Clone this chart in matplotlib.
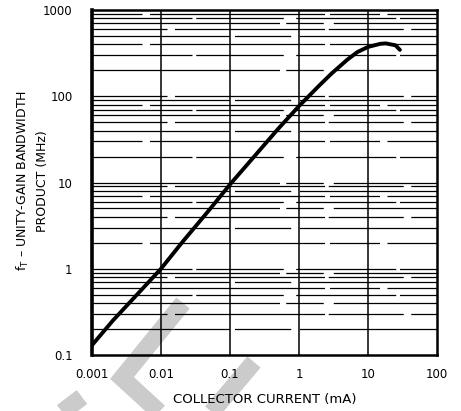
import matplotlib
matplotlib.use('Agg')
import matplotlib.pyplot as plt
from matplotlib.lines import Line2D
import numpy as np

# collector current (mA) vs unity-gain bandwidth product (MHz)
ic_ma = [0.001, 0.002, 0.005, 0.01, 0.02, 0.05, 0.1, 0.2, 0.5, 1, 2, 3, 5, 7,
         10, 15, 18, 25, 29]
ft_mhz = [0.13, 0.25, 0.55, 1.0, 2.0, 4.8, 9.5, 18, 42, 77, 135, 185, 265, 325,
          373, 405, 410, 390, 345]

x_ticks = [0.001, 0.01, 0.1, 1, 10, 100]
x_tick_labels = ['0.001', '0.01', '0.1', '1', '10', '100']
y_ticks = [0.1, 1, 10, 100, 1000]
y_tick_labels = ['0.1', '1', '10', '100', '1000']

W, H = 461, 411


def main():
  plt.rcParams['font.family'] = ['DejaVu Sans']
  fig = plt.figure(figsize=(W / 100, H / 100), dpi=100)
  ax = fig.add_axes([92 / W, 1 - 355 / H, 345 / W, 345 / H])
  ax.set_facecolor('none')
  ax.set_xscale('log')
  ax.set_yscale('log')
  ax.set_xlim(x_ticks[0], x_ticks[-1])
  ax.set_ylim(y_ticks[0], y_ticks[-1])

  # grey diagonal stamp behind the chart
  stamp = [
      [(183, 303), (122, 378), (170, 422)],
      [(45, 425), (82, 397)],
      [(254, 362), (205, 420)],
  ]
  for pts in stamp:
    xs = [p[0] / W for p in pts]
    ys = [1 - p[1] / H for p in pts]
    fig.add_artist(Line2D(xs, ys, transform=fig.transFigure, color='#cbcbcb',
                          linewidth=12.5, solid_joinstyle='miter',
                          solid_capstyle='butt', zorder=-5))

  # horizontal rulings at every 1..9 step of each decade, broken like a scan
  dash_sets = [(110, 4, 45, 7), (60, 6, 120, 3), (150, 5, 30, 8),
               (80, 3, 70, 10), (40, 6, 140, 4)]
  k = 0
  for dec in [0.1, 1, 10, 100]:
    for m in range(1, 10):
      yv = dec * m
      if yv <= y_ticks[0] or yv >= y_ticks[-1]:
        continue
      ds = dash_sets[k % len(dash_sets)]
      ax.axhline(yv, color='black', linewidth=0.9,
                 dashes=ds, dash_capstyle='butt', zorder=1)
      k += 1
  for xv in x_ticks[1:-1]:
    ax.axvline(xv, color='black', linewidth=1.1, zorder=1)

  ax.plot(ic_ma, ft_mhz, color='black', linewidth=2.8,
          solid_capstyle='round', solid_joinstyle='round', zorder=3)

  ax.set_xticks(x_ticks)
  ax.set_xticklabels(x_tick_labels)
  ax.set_yticks(y_ticks)
  ax.set_yticklabels(y_tick_labels)
  ax.minorticks_off()
  ax.tick_params(length=0, labelsize=8.5, pad=9)
  ax.tick_params(axis='y', pad=14)

  for side in ['top', 'right', 'bottom']:
    ax.spines[side].set_linewidth(1.8)
  ax.spines['left'].set_linewidth(2.6)

  ax.set_xlabel('COLLECTOR CURRENT (mA)', fontsize=9.5, labelpad=9)
  fig.text(32 / W, 1 - 181 / H,
           '$\\mathregular{f_T}$ \u2013 UNITY-GAIN BANDWIDTH\nPRODUCT (MHz)',
           rotation=90, ha='center', va='center', multialignment='center',
           fontsize=9, linespacing=1.5)

  fig.savefig('out.png', dpi=100)


if __name__ == '__main__':
  main()
